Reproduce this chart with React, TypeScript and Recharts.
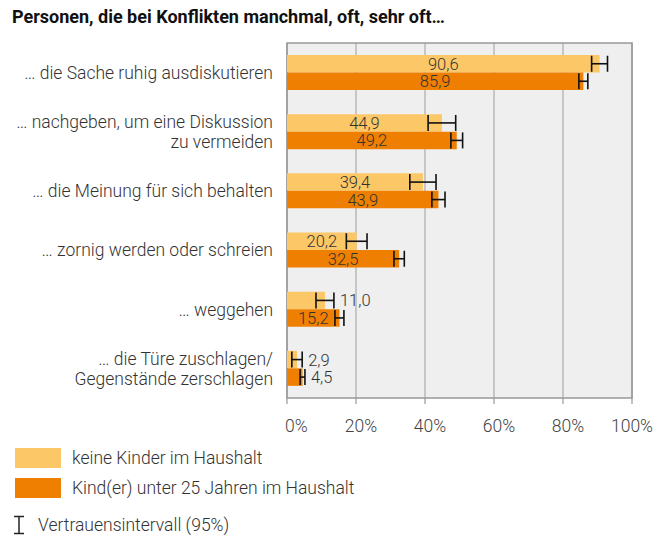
import React from 'react'
import { BarChart, Bar, XAxis, YAxis, CartesianGrid, ErrorBar, LabelList, ReferenceArea } from 'recharts'

const categories = [
  '… die Sache ruhig ausdiskutieren',
  '… nachgeben, um eine Diskussion\nzu vermeiden',
  '… die Meinung für sich behalten',
  '… zornig werden oder schreien',
  '… weggehen',
  '… die Türe zuschlagen/\nGegenstände zerschlagen',
]
const noKids = [90.6, 44.9, 39.4, 20.2, 11.0, 2.9]
const kids = [85.9, 49.2, 43.9, 32.5, 15.2, 4.5]
const errNoKids = [2.3, 4.0, 3.8, 3.0, 2.6, 1.5]
const errKids = [1.3, 1.7, 1.9, 1.5, 1.3, 0.7]
const xTicks = [0, 20, 40, 60, 80, 100]

const LIGHT = '#FCC766'
const DARK = '#EF7F00'
const FONT = 'Roboto, "Noto Sans", sans-serif'
const FS = 17.5
const VALUE_FS = 16.5

const data = categories.map((name, i) => ({
  name,
  noKids: noKids[i],
  kids: kids[i],
  errNoKids: errNoKids[i],
  errKids: errKids[i],
}))

const fmt = (v: number) => v.toFixed(1).replace('.', ',')

const makeLabel = (errs: number[]) => (props: any) => {
  const { x, y, width, height, value, index } = props
  const w = Number(width)
  const v = Number(value)
  const text = fmt(v)
  const cy = Number(y) + Number(height) / 2
  if (w > 45) {
    return (
      <text x={Number(x) + w / 2} y={cy} dy="0.36em" textAnchor="middle" fontSize={VALUE_FS} fontWeight={300} fill="#333" fontFamily={FONT}>
        {text}
      </text>
    )
  }
  const perUnit = w / v
  const end = Number(x) + w + errs[index] * perUnit
  return (
    <text x={end + 6} y={cy} dy="0.36em" textAnchor="start" fontSize={VALUE_FS} fontWeight={300} fill="#333" fontFamily={FONT}>
      {text}
    </text>
  )
}

const CategoryTick = (props: any) => {
  const { x, y, payload } = props
  const lines = String(payload.value).split('\n')
  const start = -(lines.length - 1) * 10
  return (
    <text x={x} y={y} textAnchor="end" fontSize={FS} fontWeight={300} fill="#333" fontFamily={FONT}>
      {lines.map((l, i) => (
        <tspan key={i} x={x} y={y + start + i * 20} dy="0.36em">{l}</tspan>
      ))}
    </text>
  )
}

const PctTick = (props: any) => {
  const { x, y, payload } = props
  const v = payload.value
  const anchor = v === 0 ? 'start' : 'middle'
  const dx = v === 0 ? -2 : v === 100 ? 0 : 5
  return (
    <text x={x + dx} y={y + 20} dy="0.36em" textAnchor={anchor} fontSize={FS} fontWeight={300} fill="#444" fontFamily={FONT}>
      {v}%
    </text>
  )
}

const LegendBlock = () => (
  <div style={{ position: 'absolute', left: 15, top: 448, fontFamily: FONT, fontSize: FS, fontWeight: 300, color: '#333' }}>
    <div style={{ display: 'flex', alignItems: 'center', height: 20, marginBottom: 10 }}>
      <span style={{ width: 46, height: 20, background: LIGHT, display: 'inline-block' }} />
      <span style={{ marginLeft: 11 }}>keine Kinder im Haushalt</span>
    </div>
    <div style={{ display: 'flex', alignItems: 'center', height: 20, marginBottom: 17 }}>
      <span style={{ width: 46, height: 20, background: DARK, display: 'inline-block' }} />
      <span style={{ marginLeft: 11 }}>Kind(er) unter 25 Jahren im Haushalt</span>
    </div>
    <div style={{ display: 'flex', alignItems: 'center', height: 20 }}>
      <svg width={14} height={20} style={{ marginLeft: -3 }}>
        <line x1={2} y1={1.5} x2={12} y2={1.5} stroke="#222" strokeWidth={1.5} />
        <line x1={7} y1={1.5} x2={7} y2={18.5} stroke="#222" strokeWidth={1.5} />
        <line x1={2} y1={18.5} x2={12} y2={18.5} stroke="#222" strokeWidth={1.5} />
      </svg>
      <span style={{ marginLeft: 12 }}>Vertrauensintervall (95%)</span>
    </div>
  </div>
)

export default function App() {
  return (
    <div style={{ position: 'absolute', left: 0, top: 0, width: 672, height: 539, background: '#fff' }}>
      <div style={{ position: 'absolute', left: 12, top: 6, fontFamily: FONT, fontWeight: 700, fontSize: 18, color: '#111' }}>
        Personen, die bei Konflikten manchmal, oft, sehr oft…
      </div>
      <BarChart
        width={672}
        height={539}
        data={data}
        layout="vertical"
        margin={{ top: 43, right: 40, bottom: 101, left: 0 }}
        barGap={0}
        barSize={17.5}
      >
        <CartesianGrid horizontal={false} fill="#efefef" stroke="#aaa" strokeWidth={1.2} />
        <XAxis
          type="number"
          domain={[0, 100]}
          ticks={xTicks}
          axisLine={false}
          tickLine={{ stroke: '#999', strokeWidth: 1.2 }}
          tickSize={6}
          tick={<PctTick />}
          height={40}
          interval={0}
        />
        <YAxis type="category" dataKey="name" width={287} axisLine={false} tickLine={false} tickSize={0} tickMargin={14} tick={<CategoryTick />} interval={0} />
        <Bar dataKey="noKids" fill={LIGHT} isAnimationActive={false}>
          <LabelList dataKey="noKids" content={makeLabel(errNoKids)} />
          <ErrorBar dataKey="errNoKids" direction="x" width={8} stroke="#111" strokeWidth={1.6} />
        </Bar>
        <Bar dataKey="kids" fill={DARK} isAnimationActive={false}>
          <LabelList dataKey="kids" content={makeLabel(errKids)} />
          <ErrorBar dataKey="errKids" direction="x" width={8} stroke="#111" strokeWidth={1.6} />
        </Bar>
        <ReferenceArea x1={0} x2={100} fill="none" stroke="#999" strokeWidth={1.6} ifOverflow="visible" />
      </BarChart>
      <LegendBlock />
    </div>
  )
}
